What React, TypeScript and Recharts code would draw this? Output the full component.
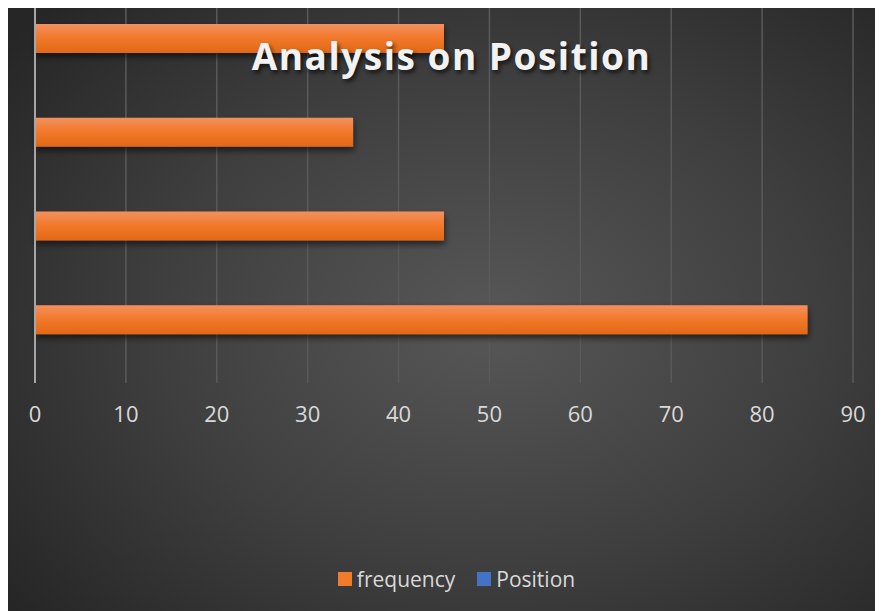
import { BarChart, Bar, XAxis, YAxis, CartesianGrid, Legend } from "recharts"

const categories = ['Position A', 'Position B', 'Position C', 'Position D']
const frequency = [45, 35, 45, 85]
const position = [0, 0, 0, 0]
const xTicks = [0, 10, 20, 30, 40, 50, 60, 70, 80, 90]

const data = categories.map((name, i) => ({ name, frequency: frequency[i], Position: position[i] }))

const FONT = '"Open Sans", Lato, sans-serif'

function LegendContent() {
  const items = [
    { label: 'frequency', color: '#f07c2a' },
    { label: 'Position', color: '#4472c4' },
  ]
  return (
    <div style={{ display: 'flex', justifyContent: 'center', gap: 22, paddingLeft: 52, fontFamily: FONT, fontSize: 21, color: '#d9d9d9' }}>
      {items.map((it) => (
        <div key={it.label} style={{ display: 'flex', alignItems: 'center' }}>
          <span style={{ width: 14, height: 14, background: it.color, marginRight: 5, display: 'inline-block' }} />
          <span>{it.label}</span>
        </div>
      ))}
    </div>
  )
}

function App() {
  return (
    <div
      style={{
        position: 'relative',
        width: 875,
        height: 603,
        background: 'radial-gradient(ellipse 70% 75% at 55% 52%, #575757 0%, #3e3e3e 55%, #262626 100%)',
      }}
    >
      <BarChart
        width={875}
        height={603}
        data={data}
        layout="vertical"
        margin={{ top: 0, right: 30, left: 0, bottom: 18 }}
        barSize={29}
        barGap={4}
      >
        <defs>
          <linearGradient id="orangeGrad" x1="0" y1="0" x2="0" y2="1">
            <stop offset="0%" stopColor="#f39060" />
            <stop offset="45%" stopColor="#f27a2c" />
            <stop offset="100%" stopColor="#e26816" />
          </linearGradient>
          <filter id="barShadow" x="-5%" y="-20%" width="110%" height="160%">
            <feDropShadow dx="1" dy="4" stdDeviation="3" floodColor="#000" floodOpacity="0.55" />
          </filter>
        </defs>
        <CartesianGrid horizontal={false} stroke="#5a5a5a" strokeWidth={1.5} />
        <XAxis
          type="number"
          domain={[0, 90]}
          ticks={xTicks}
          axisLine={false}
          tickLine={false}
          tickSize={0}
          tickMargin={23}
          height={182}
          tick={{ fill: '#d9d9d9', fontSize: 22, fontFamily: FONT }}
        />
        <YAxis
          type="category"
          dataKey="name"
          width={27}
          tick={false}
          tickLine={false}
          axisLine={{ stroke: '#a6a6a6', strokeWidth: 2 }}
        />
        <Bar dataKey="frequency" fill="url(#orangeGrad)" filter="url(#barShadow)" isAnimationActive={false} />
        <Bar dataKey="Position" fill="#4472c4" isAnimationActive={false} />
        <Legend verticalAlign="bottom" height={28} content={<LegendContent />} />
      </BarChart>
      <div
        style={{
          position: 'absolute',
          left: 0,
          right: 0,
          top: 22,
          paddingLeft: 12,
          textAlign: 'center',
          fontFamily: FONT,
          fontWeight: 700,
          fontSize: 37,
          letterSpacing: 1.5,
          color: '#f2f2f2',
          textShadow: '2px 3px 4px rgba(0,0,0,0.65)',
          pointerEvents: 'none',
        }}
      >
        Analysis on Position
      </div>
    </div>
  )
}

export default App
